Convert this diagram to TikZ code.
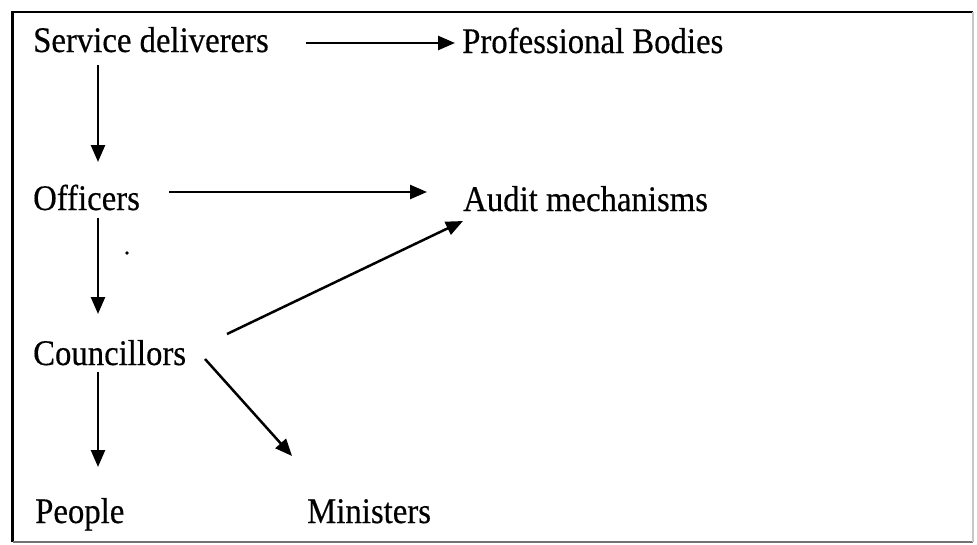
\documentclass[tikz,border=0pt]{standalone}
\usepackage{fontspec}
\setmainfont{Liberation Serif}[FakeStretch=0.91,FakeBold=0.4]
\usetikzlibrary{arrows.meta,calc}

\begin{document}
\begin{tikzpicture}[x=1pt,y=-1pt,
  label/.style={anchor=base west,inner sep=0pt,font=\fontsize{36}{43}\selectfont},
  arr/.style={line width=2.5pt,-{Triangle[length=17pt,width=14pt]}},
  frame/.style={line width=2.6pt}]
  \useasboundingbox[fill=white] (0,0) rectangle (977,544);

  % outer frame
  \draw[frame,black] (12.5,542) -- (12.5,12) -- (973,12);
  \draw[frame,black!55] (12.5,542) -- (973,542);
  \draw[frame,black!22] (973,12) -- (973,542);

  % labels
  \node[label] (sd) at (33,52)  {Service deliverers};
  \node[label] (pb) at (462,53) {Professional Bodies};
  \node[label] (of) at (33,210) {Officers};
  \node[label] (am) at (463,211) {Audit mechanisms};
  \node[label] (co) at (33,365) {Councillors};
  \node[label] (pe) at (35,523) {People};
  \node[label] (mi) at (307,523) {Ministers};

  % connectors
  \draw[arr] ($(sd.base east)+(37,-9)$) -- ($(pb.base west)+(-7,-10)$);
  \draw[arr] ($(sd.base west)+(65,13)$) -- ($(of.base west)+(65,-48)$);
  \draw[arr] ($(of.base west)+(136,-18)$) -- ($(am.base west)+(-36,-19)$);
  \draw[arr] ($(of.base west)+(65,8)$) -- ($(co.base west)+(65,-51)$);
  \draw[arr] ($(co.base west)+(194,-31)$) -- ($(am.base west)+(0,10)$);
  \draw[arr] ($(co.base west)+(65,7)$) -- ($(pe.base west)+(63,-56)$);
  \draw[arr] ($(co.base west)+(172,-6)$) -- ($(mi.base west)+(-15,-67)$);

  % small stray dot
  \coordinate (dot) at (127,253);
  \fill (dot) circle (1.8);
\end{tikzpicture}
\end{document}
